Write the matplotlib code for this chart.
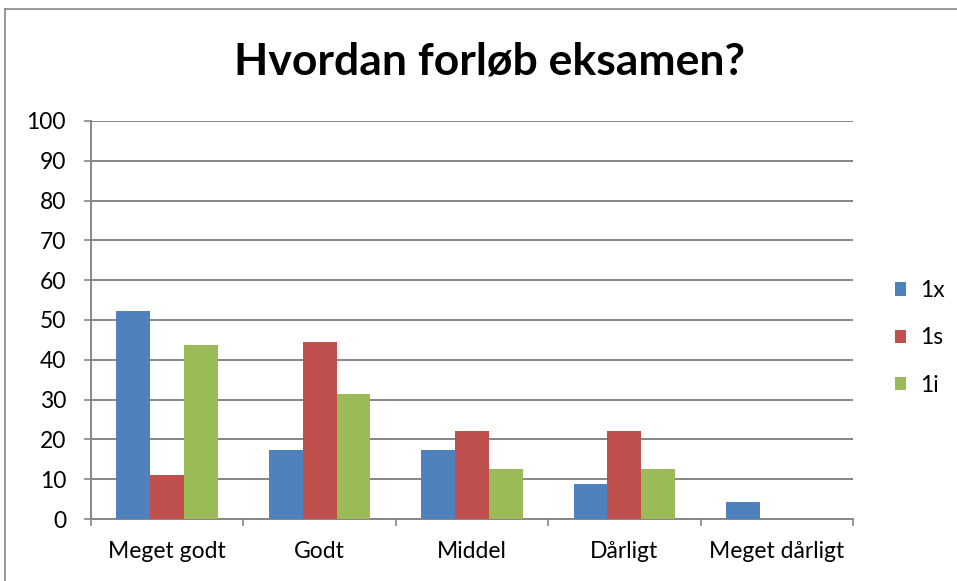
import numpy as np
import matplotlib
matplotlib.use('Agg')
import matplotlib.pyplot as plt

plt.rcParams['font.family'] = ['Lato', 'DejaVu Sans']

# Data
kategorier = ['Meget godt', 'Godt', 'Middel', 'Dårligt', 'Meget dårligt']
serier = ['1x', '1s', '1i']
v_1x = [52.2, 17.4, 17.4, 8.7, 4.3]
v_1s = [11.1, 44.4, 22.2, 22.2, 0]
v_1i = [43.8, 31.3, 12.5, 12.5, 0]
farver = ['#4f81bd', '#c0504d', '#9bbb59']

fig = plt.figure(figsize=(9.57, 5.81), dpi=100)
ax = fig.add_axes([91 / 957, 1 - 519 / 581, (853 - 91) / 957, (519 - 121) / 581])

x = np.arange(len(kategorier))
w = 1 / 4.5
for i, (navn, vals) in enumerate(zip(serier, [v_1x, v_1s, v_1i])):
    ax.bar(x + (i - 1) * w, vals, width=w, color=farver[i], label=navn, zorder=3)

ax.set_xlim(-0.5, len(kategorier) - 0.5)
ax.set_ylim(0, 100)
ax.set_yticks(range(0, 101, 10))
ax.set_xticks(x)
ax.set_xticklabels(kategorier)
ax.tick_params(axis='both', labelsize=16.5, colors='#868686', labelcolor='black')
ax.tick_params(axis='x', length=0, pad=16)
ax.tick_params(axis='y', length=5, width=1.2, pad=13)
ax.set_xticks(np.arange(-0.5, len(kategorier)), minor=True)
ax.tick_params(axis='x', which='minor', length=5, width=1.2, colors='#868686')
ax.grid(axis='y', color='#868686', linewidth=1.4, zorder=0)
for s in ['top', 'right']:
    ax.spines[s].set_visible(False)
for s in ['left', 'bottom']:
    ax.spines[s].set_color('#868686')
    ax.spines[s].set_linewidth(1.4)

fig.text(490 / 957, 1 - 61 / 581, 'Hvordan forløb eksamen?', ha='center', va='center',
         fontsize=32, fontweight='bold')

fig.legend(*ax.get_legend_handles_labels(), loc='center left',
           bbox_to_anchor=(895 / 957, 1 - 338 / 581), frameon=False,
           borderpad=0, borderaxespad=0,
           fontsize=16.5, handlelength=0.5, handleheight=0.5, handletextpad=0.6,
           labelspacing=1.15)

# chart border (top and left visible)
fig.add_artist(plt.Line2D([5 / 957, 5 / 957], [0, 1 - 9 / 581], color='#868686', lw=1.2))
fig.add_artist(plt.Line2D([5 / 957, 1], [1 - 9 / 581, 1 - 9 / 581], color='#868686', lw=1.2))

fig.savefig('out.png', dpi=100)
